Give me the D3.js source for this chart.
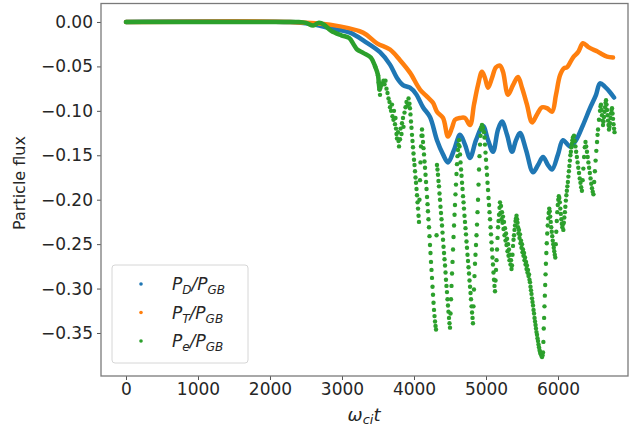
<!DOCTYPE html>
<html>
<head>
<meta charset="utf-8">
<script src="https://cdn.jsdelivr.net/npm/d3@7"></script>
<style>
body { margin: 0; background: #fff; }
svg text { font-family: "DejaVu Sans", sans-serif; fill: #262626; }
</style>
</head>
<body>
<svg id="chart"></svg>
<script>
const WIDTH = 635;
const HEIGHT = 427;

// axes box in the window
const LEFT = 101, RIGHT = 628, TOP = 3.5, BOTTOM = 376;

const X_DOMAIN = [-347, 6972];
const Y_DOMAIN = [0.0208, -0.3984];

const xTicks = [0, 1000, 2000, 3000, 4000, 5000, 6000];
const yTicks = [0, -0.05, -0.10, -0.15, -0.20, -0.25, -0.30, -0.35];

const COLORS = ["#1f77b4", "#ff7f0e", "#2ca02c"];

// P_D / P_GB
const timeD = [0, 2280, 2555, 2833, 3111, 3319, 3528, 3667, 3764, 3847, 3944, 4028, 4125, 4222,
    4319, 4403, 4472, 4556, 4639, 4708, 4778, 4861, 4958, 5028, 5097, 5167, 5222, 5292, 5361,
    5417, 5472, 5556, 5653, 5722, 5792, 5861, 5917, 6000, 6069, 6167, 6250, 6347, 6444, 6528,
    6583, 6653, 6722, 6778];
const fluxD = [0, 0, -0.002, -0.007, -0.012, -0.022, -0.034, -0.048, -0.063, -0.071, -0.074, -0.081, -0.096, -0.107,
    -0.133, -0.149, -0.158, -0.144, -0.127, -0.138, -0.153, -0.133, -0.117, -0.133, -0.146, -0.121, -0.112, -0.127, -0.146,
    -0.133, -0.125, -0.144, -0.169, -0.161, -0.152, -0.161, -0.166, -0.149, -0.133, -0.140, -0.133, -0.116, -0.097, -0.082,
    -0.069, -0.073, -0.079, -0.085];

// P_T / P_GB
const timeT = [0, 2280, 2833, 3292, 3486, 3667, 3806, 3944, 4083, 4181, 4264, 4319, 4403, 4472,
    4528, 4569, 4639, 4708, 4778, 4833, 4889, 4944, 4986, 5028, 5083, 5139, 5194, 5236, 5306,
    5375, 5444, 5500, 5569, 5639, 5708, 5778, 5847, 5917, 5972, 6028, 6083, 6125, 6208, 6278,
    6347, 6417, 6486, 6542, 6583, 6681, 6764];
const fluxT = [0, 0, -0.003, -0.012, -0.024, -0.031, -0.043, -0.057, -0.076, -0.084, -0.091, -0.101, -0.108, -0.129,
    -0.119, -0.110, -0.108, -0.108, -0.116, -0.093, -0.071, -0.056, -0.063, -0.074, -0.063, -0.051, -0.049, -0.056, -0.082,
    -0.071, -0.062, -0.074, -0.093, -0.113, -0.104, -0.096, -0.097, -0.101, -0.082, -0.060, -0.052, -0.051, -0.040, -0.034,
    -0.024, -0.028, -0.031, -0.033, -0.035, -0.039, -0.040];

// P_e / P_GB, [time, flux]
const electron = [
    [0, 0], [300, 0], [600, 0], [900, 0], [1200, 0], [1500, 0], [1800, 0], [2000, 0], [2200, 0], [2400, 0],
    [2500, -0.001], [2600, -0.004], [2680, -0.001], [2750, -0.003], [2850, -0.010], [2990, -0.015],
    [3100, -0.018], [3160, -0.025], [3210, -0.031], [3300, -0.035], [3400, -0.040], [3460, -0.050],
    [3500, -0.060], [3510, -0.068], [3521, -0.076], [3528, -0.082], [3535, -0.074], [3549, -0.071], [3562, -0.069],
    [3576, -0.066], [3590, -0.070], [3604, -0.066], [3618, -0.075], [3632, -0.080], [3646, -0.086], [3660, -0.090],
    [3667, -0.096], [3681, -0.100], [3694, -0.093], [3701, -0.106], [3715, -0.110], [3722, -0.100], [3736, -0.115],
    [3743, -0.108], [3750, -0.120], [3757, -0.126], [3764, -0.131], [3778, -0.124], [3785, -0.134], [3792, -0.140],
    [3806, -0.132], [3813, -0.120], [3826, -0.126], [3833, -0.114], [3847, -0.108], [3854, -0.118], [3868, -0.102],
    [3882, -0.096], [3896, -0.090], [3910, -0.094], [3924, -0.086], [3937, -0.092],
    [3944, -0.097], [3951, -0.104], [3958, -0.112], [3965, -0.119], [3972, -0.127], [3979, -0.134], [3986, -0.141],
    [3993, -0.148], [4000, -0.155], [4007, -0.161], [4014, -0.168], [4021, -0.175], [4028, -0.181], [4035, -0.188],
    [4042, -0.195], [4049, -0.203], [4056, -0.210], [4063, -0.218], [4069, -0.225],
    [4076, -0.200], [4083, -0.178], [4090, -0.158], [4097, -0.140], [4104, -0.128],
    [4111, -0.121], [4118, -0.128], [4125, -0.135], [4132, -0.142], [4139, -0.149], [4146, -0.157], [4153, -0.164],
    [4160, -0.172], [4167, -0.180], [4174, -0.188], [4181, -0.197], [4188, -0.205], [4194, -0.213], [4201, -0.222],
    [4208, -0.231], [4215, -0.241], [4222, -0.251], [4229, -0.260], [4236, -0.270], [4243, -0.279], [4250, -0.288],
    [4257, -0.298], [4264, -0.307], [4271, -0.316], [4278, -0.324], [4285, -0.331], [4292, -0.337], [4299, -0.342],
    [4306, -0.346], [4313, -0.240],
    [4319, -0.161], [4326, -0.166], [4333, -0.172], [4340, -0.179], [4347, -0.185], [4354, -0.193], [4361, -0.200],
    [4368, -0.208], [4375, -0.215], [4382, -0.222], [4389, -0.229], [4396, -0.237], [4403, -0.245], [4410, -0.253],
    [4417, -0.260], [4424, -0.267], [4431, -0.274], [4438, -0.282], [4444, -0.290], [4451, -0.297], [4458, -0.304],
    [4465, -0.312], [4472, -0.319], [4479, -0.326], [4486, -0.333], [4493, -0.339], [4500, -0.344],
    [4507, -0.328], [4514, -0.312], [4521, -0.297], [4528, -0.283], [4535, -0.270], [4542, -0.256], [4549, -0.242],
    [4556, -0.229], [4563, -0.217], [4569, -0.206], [4576, -0.194], [4583, -0.183], [4590, -0.171], [4597, -0.160],
    [4604, -0.151], [4611, -0.144], [4618, -0.138], [4625, -0.133], [4632, -0.140], [4639, -0.149], [4646, -0.158],
    [4653, -0.166], [4660, -0.173], [4667, -0.181], [4674, -0.188], [4681, -0.196], [4688, -0.203], [4694, -0.210],
    [4701, -0.218], [4708, -0.225], [4715, -0.232], [4722, -0.239], [4729, -0.247], [4736, -0.254], [4743, -0.262],
    [4750, -0.269], [4757, -0.276], [4764, -0.283], [4771, -0.291], [4778, -0.298], [4785, -0.305], [4792, -0.312],
    [4799, -0.320], [4806, -0.327], [4813, -0.333], [4819, -0.339],
    [4826, -0.320], [4833, -0.301], [4840, -0.286], [4847, -0.272], [4854, -0.262], [4861, -0.251], [4868, -0.240],
    [4875, -0.228], [4882, -0.214], [4889, -0.200], [4896, -0.183], [4903, -0.166], [4910, -0.151], [4917, -0.138],
    [4924, -0.128], [4931, -0.121], [4938, -0.118], [4944, -0.116], [4958, -0.119], [4972, -0.124], [4979, -0.130],
    [4986, -0.138], [4993, -0.147], [5000, -0.155], [5007, -0.164], [5014, -0.172], [5021, -0.181], [5028, -0.189],
    [5035, -0.198], [5042, -0.206], [5049, -0.214], [5056, -0.222], [5063, -0.231], [5069, -0.239], [5076, -0.248],
    [5083, -0.256], [5090, -0.265], [5097, -0.273], [5104, -0.282], [5111, -0.290], [5118, -0.297], [5125, -0.303],
    [5132, -0.291], [5139, -0.279], [5146, -0.268], [5153, -0.256], [5160, -0.243], [5167, -0.231], [5174, -0.224],
    [5181, -0.217], [5188, -0.209],
    [5194, -0.203], [5201, -0.215], [5208, -0.207], [5215, -0.222], [5222, -0.214], [5229, -0.226], [5236, -0.219],
    [5243, -0.233], [5250, -0.225], [5257, -0.240], [5264, -0.232], [5271, -0.246], [5278, -0.238], [5285, -0.251],
    [5292, -0.244], [5299, -0.258], [5306, -0.250], [5313, -0.263], [5319, -0.256], [5326, -0.268], [5333, -0.262],
    [5340, -0.273], [5347, -0.268], [5354, -0.278], [5361, -0.274],
    [5368, -0.262], [5375, -0.252], [5382, -0.245], [5389, -0.240], [5396, -0.234], [5403, -0.229], [5410, -0.224],
    [5417, -0.221], [5424, -0.218], [5431, -0.222], [5438, -0.226],
    [5444, -0.231], [5451, -0.238], [5458, -0.234], [5465, -0.243], [5472, -0.239], [5479, -0.249], [5486, -0.246],
    [5493, -0.254], [5500, -0.250], [5507, -0.259], [5514, -0.256], [5521, -0.263], [5528, -0.260], [5535, -0.268],
    [5542, -0.265], [5549, -0.273], [5556, -0.270], [5563, -0.278], [5569, -0.274], [5576, -0.282], [5583, -0.279],
    [5590, -0.286], [5597, -0.284], [5604, -0.290], [5611, -0.293],
    [5618, -0.298], [5625, -0.302], [5632, -0.306], [5639, -0.311], [5646, -0.315], [5653, -0.319], [5660, -0.324],
    [5667, -0.328], [5674, -0.333], [5681, -0.337], [5688, -0.341], [5694, -0.345], [5701, -0.349], [5708, -0.352],
    [5715, -0.356], [5722, -0.359], [5729, -0.363], [5736, -0.366], [5743, -0.369], [5750, -0.371], [5757, -0.373],
    [5764, -0.374], [5771, -0.376], [5778, -0.377], [5785, -0.375], [5792, -0.372],
    [5797, -0.360], [5802, -0.345], [5807, -0.333], [5812, -0.320], [5817, -0.308], [5822, -0.296], [5827, -0.284],
    [5832, -0.272], [5838, -0.260], [5844, -0.249], [5850, -0.238], [5857, -0.229], [5864, -0.221], [5871, -0.215],
    [5878, -0.210],
    [5885, -0.213], [5892, -0.219], [5899, -0.225], [5906, -0.231], [5913, -0.236], [5920, -0.241], [5927, -0.246],
    [5934, -0.250], [5941, -0.254], [5948, -0.258], [5955, -0.262], [5962, -0.265],
    [5969, -0.250], [5976, -0.236], [5983, -0.224], [5990, -0.214], [5997, -0.206], [6004, -0.200], [6011, -0.196],
    [6018, -0.198],
    [6025, -0.203], [6032, -0.210], [6039, -0.216], [6046, -0.222], [6053, -0.227], [6060, -0.231], [6067, -0.228],
    [6074, -0.234], [6081, -0.226], [6088, -0.220], [6095, -0.214], [6102, -0.208], [6109, -0.201], [6116, -0.195],
    [6123, -0.190], [6130, -0.185], [6137, -0.180], [6144, -0.174], [6151, -0.168], [6158, -0.162], [6165, -0.156],
    [6172, -0.150], [6179, -0.146], [6186, -0.141], [6193, -0.137], [6200, -0.133], [6207, -0.130],
    [6222, -0.128], [6232, -0.134], [6242, -0.140], [6252, -0.146], [6262, -0.152], [6272, -0.158], [6282, -0.164],
    [6292, -0.170], [6302, -0.176], [6312, -0.181], [6322, -0.186], [6332, -0.190],
    [6342, -0.178], [6352, -0.165], [6362, -0.152], [6372, -0.141], [6382, -0.135],
    [6392, -0.140], [6402, -0.146], [6412, -0.152], [6422, -0.158], [6432, -0.164], [6442, -0.170], [6452, -0.176],
    [6462, -0.182], [6472, -0.187], [6482, -0.191], [6492, -0.194],
    [6502, -0.180], [6512, -0.168], [6522, -0.156], [6532, -0.145], [6542, -0.135], [6549, -0.127],
    [6556, -0.121], [6569, -0.110], [6583, -0.100], [6590, -0.095], [6597, -0.093], [6604, -0.099], [6611, -0.105],
    [6618, -0.111], [6625, -0.116], [6632, -0.112], [6639, -0.107], [6646, -0.101], [6653, -0.096], [6660, -0.091],
    [6667, -0.088], [6674, -0.093], [6681, -0.099], [6688, -0.105], [6694, -0.111], [6701, -0.116], [6708, -0.121],
    [6715, -0.118], [6722, -0.114], [6729, -0.108], [6736, -0.103], [6743, -0.099], [6750, -0.097], [6757, -0.103],
    [6764, -0.109], [6771, -0.115], [6778, -0.120], [6785, -0.124]
];

const legendLabels = [["P", "D"], ["P", "T"], ["P", "e"]];

function main() {
    const svg = d3.select("#chart")
        .attr("width", WIDTH)
        .attr("height", HEIGHT);

    const x = d3.scaleLinear().domain(X_DOMAIN).range([LEFT, RIGHT]);
    const y = d3.scaleLinear().domain(Y_DOMAIN).range([TOP, BOTTOM]);

    const series = [
        timeD.map((t, i) => [t, fluxD[i]]),
        timeT.map((t, i) => [t, fluxT[i]]),
        electron
    ];

    const plot = svg.append("g");

    const line = d3.line()
        .x(d => x(d[0]))
        .y(d => y(d[1]))
        .curve(d3.curveCatmullRom);

    // D and T are so dense they read as thick lines
    [0, 1].forEach(k => {
        plot.append("path")
            .datum(series[k])
            .attr("d", line)
            .attr("fill", "none")
            .attr("stroke", COLORS[k])
            .attr("stroke-width", 4.5)
            .attr("stroke-linejoin", "round")
            .attr("stroke-linecap", "round");
    });

    // electrons: smooth early part, scattered later
    plot.append("path")
        .datum(series[2].filter(d => d[0] <= 3521))
        .attr("d", line)
        .attr("fill", "none")
        .attr("stroke", COLORS[2])
        .attr("stroke-width", 4.5)
        .attr("stroke-linecap", "round");

    plot.selectAll("circle.e")
        .data(series[2].filter(d => d[0] > 3440))
        .enter()
        .append("circle")
        .attr("class", "e")
        .attr("cx", d => x(d[0]))
        .attr("cy", d => y(d[1]))
        .attr("r", 2.2)
        .attr("fill", COLORS[2]);

    // axes
    const xAxis = d3.axisBottom(x).tickValues(xTicks).tickFormat(d3.format("d")).tickSize(4).tickPadding(3);
    const yAxis = d3.axisLeft(y).tickValues(yTicks).tickFormat(d3.format(".2f")).tickSize(4).tickPadding(4);

    const gx = svg.append("g").attr("transform", `translate(0,${BOTTOM})`).call(xAxis);
    const gy = svg.append("g").attr("transform", `translate(${LEFT},0)`).call(yAxis);
    [gx, gy].forEach(g => {
        g.select(".domain").remove();
        g.selectAll(".tick line").attr("stroke", "#555");
        g.selectAll(".tick text").attr("font-size", 17).attr("fill", "#262626")
            .style("font-family", "DejaVu Sans");
    });

    svg.append("rect")
        .attr("x", LEFT).attr("y", TOP)
        .attr("width", RIGHT - LEFT).attr("height", BOTTOM - TOP)
        .attr("fill", "none")
        .attr("stroke", "#7a7a7a")
        .attr("stroke-width", 1.3);

    // axis labels
    svg.append("text")
        .attr("transform", "translate(25,183) rotate(-90)")
        .attr("text-anchor", "middle")
        .attr("font-size", 16)
        .text("Particle flux");

    const xl = svg.append("text")
        .attr("x", 364).attr("y", 421)
        .attr("text-anchor", "middle")
        .attr("font-style", "italic")
        .attr("font-size", 18);
    xl.append("tspan").text("ω");
    xl.append("tspan").attr("font-size", 13).attr("dy", 3).text("ci");
    xl.append("tspan").attr("dy", -3).text("t");

    // legend
    const lg = svg.append("g");
    lg.append("rect")
        .attr("x", 112).attr("y", 265)
        .attr("width", 136).attr("height", 98)
        .attr("rx", 3)
        .attr("fill", "#fff").attr("fill-opacity", 0.85)
        .attr("stroke", "#d6d6d6");

    legendLabels.forEach((lab, i) => {
        const cy = 284 + i * 28.5;
        lg.append("circle")
            .attr("cx", 141).attr("cy", cy).attr("r", 1.8)
            .attr("fill", COLORS[i]);
        const t = lg.append("text")
            .attr("x", 172).attr("y", cy + 6)
            .attr("font-style", "italic")
            .attr("font-size", 17);
        t.append("tspan").text(lab[0]);
        t.append("tspan").attr("font-size", 12).attr("dy", 4).text(lab[1]);
        t.append("tspan").attr("dy", -4).text("/P");
        t.append("tspan").attr("font-size", 12).attr("dy", 4).text("GB");
    });
}

window.addEventListener("load", main);
</script>
</body>
</html>
